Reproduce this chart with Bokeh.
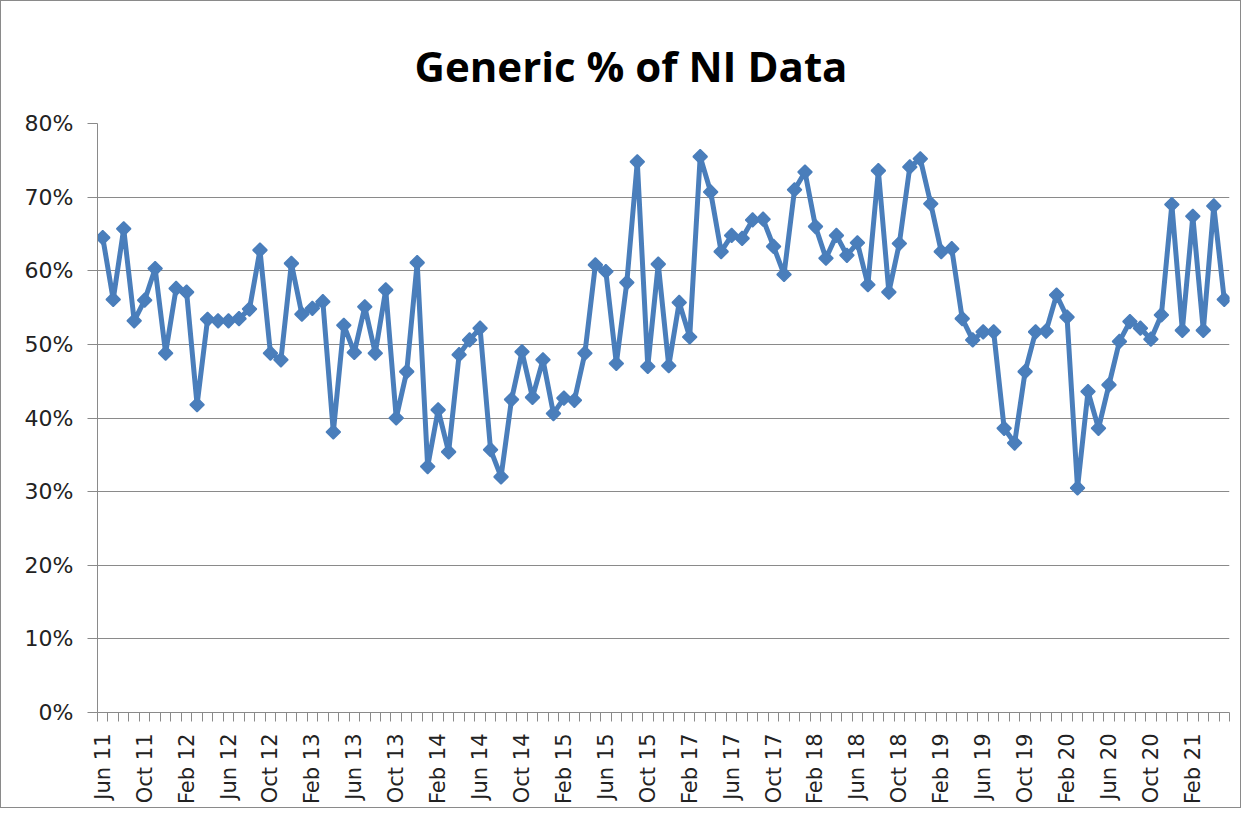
import math
from bokeh.plotting import figure
from bokeh.models import FixedTicker, NumeralTickFormatter, Range1d, ColumnDataSource
from bokeh.embed import file_html
from bokeh.resources import INLINE

# ---- data ----
title_text = "Generic % of NI Data"

months = (
    ["Jun 11", "Jul 11", "Aug 11", "Sep 11", "Oct 11", "Nov 11", "Dec 11",
     "Jan 12", "Feb 12", "Mar 12", "Apr 12", "May 12", "Jun 12", "Jul 12", "Aug 12", "Sep 12", "Oct 12", "Nov 12", "Dec 12",
     "Jan 13", "Feb 13", "Mar 13", "Apr 13", "May 13", "Jun 13", "Jul 13", "Aug 13", "Sep 13", "Oct 13", "Nov 13", "Dec 13",
     "Jan 14", "Feb 14", "Mar 14", "Apr 14", "May 14", "Jun 14", "Jul 14", "Aug 14", "Sep 14", "Oct 14", "Nov 14", "Dec 14",
     "Jan 15", "Feb 15", "Mar 15", "Apr 15", "May 15", "Jun 15", "Jul 15", "Aug 15", "Sep 15", "Oct 15", "Nov 15", "Dec 15",
     "Jan 17", "Feb 17", "Mar 17", "Apr 17", "May 17", "Jun 17", "Jul 17", "Aug 17", "Sep 17", "Oct 17", "Nov 17", "Dec 17",
     "Jan 18", "Feb 18", "Mar 18", "Apr 18", "May 18", "Jun 18", "Jul 18", "Aug 18", "Sep 18", "Oct 18", "Nov 18", "Dec 18",
     "Jan 19", "Feb 19", "Mar 19", "Apr 19", "May 19", "Jun 19", "Jul 19", "Aug 19", "Sep 19", "Oct 19", "Nov 19", "Dec 19",
     "Jan 20", "Feb 20", "Mar 20", "Apr 20", "May 20", "Jun 20", "Jul 20", "Aug 20", "Sep 20", "Oct 20", "Nov 20", "Dec 20",
     "Jan 21", "Feb 21", "Mar 21", "Apr 21", "May 21"]
)

generic_pct = [
    64.5, 56.1, 65.7, 53.2, 56.0, 60.3, 48.8, 57.6, 57.1, 41.8,
    53.4, 53.2, 53.2, 53.5, 54.8, 62.8, 48.8, 47.9, 61.0, 54.1,
    54.9, 55.8, 38.1, 52.6, 48.9, 55.1, 48.8, 57.4, 40.0, 46.3,
    61.1, 33.4, 41.1, 35.4, 48.6, 50.6, 52.2, 35.7, 32.0, 42.5,
    49.0, 42.8, 47.9, 40.6, 42.7, 42.4, 48.8, 60.8, 59.9, 47.4,
    58.4, 74.8, 47.0, 60.9, 47.1, 55.7, 51.0, 75.5, 70.7, 62.6,
    64.8, 64.4, 66.9, 67.0, 63.3, 59.5, 71.0, 73.4, 66.0, 61.7,
    64.8, 62.1, 63.8, 58.1, 73.6, 57.1, 63.7, 74.1, 75.2, 69.1,
    62.6, 63.0, 53.5, 50.6, 51.7, 51.7, 38.6, 36.6, 46.3, 51.7,
    51.8, 56.7, 53.7, 30.5, 43.6, 38.6, 44.5, 50.4, 53.1, 52.2,
    50.7, 54.0, 69.0, 51.9, 67.4, 51.9, 68.8, 56.1,
]

y_ticks = [0.0, 0.1, 0.2, 0.3, 0.4, 0.5, 0.6, 0.7, 0.8]
label_every = 4

# ---- build ----
idx = list(range(len(months)))
src = ColumnDataSource(dict(x=idx, y=[v / 100.0 for v in generic_pct], m=months))

BLUE = "#4A7EBB"
GRID = "#8A8A8A"

p = figure(width=1241, height=808, output_backend="svg", toolbar_location=None,
           title=title_text,
           x_range=Range1d(-0.5, len(months) - 0.5), y_range=Range1d(y_ticks[0], y_ticks[-1]),
           min_border_left=96, min_border_right=13, min_border_top=122, min_border_bottom=97)

p.styles = {"border": "1px solid #8a8a8a"}
p.background_fill_color = "white"
p.border_fill_color = "white"
p.outline_line_color = None

p.title.align = "left"
p.title.text_font = "Open Sans"
p.title.text_font_style = "bold"
p.title.text_font_size = "42px"
p.title.text_color = "black"
p.title.offset = 317
p.title.standoff = 60

p.line("x", "y", source=src, line_color=BLUE, line_width=5, line_join="round")
p.scatter("x", "y", source=src, marker="square", size=10, angle=math.pi / 4,
          fill_color=BLUE, line_color=BLUE, line_width=1.5)

# y axis
p.yaxis.ticker = FixedTicker(ticks=y_ticks)
p.yaxis.formatter = NumeralTickFormatter(format="0%")
p.yaxis.major_tick_out = 10
p.yaxis.major_tick_in = 0
p.yaxis.minor_tick_out = 0
p.yaxis.minor_tick_in = 0
p.yaxis.major_label_standoff = 14
p.yaxis.major_label_text_font = "DejaVu Sans"
p.yaxis.major_label_text_font_size = "22px"
p.yaxis.major_label_text_color = "#222222"
p.yaxis.axis_line_color = GRID
p.yaxis.major_tick_line_color = GRID

# x axis
label_pos = idx[::label_every]
p.xaxis.ticker = FixedTicker(ticks=label_pos, minor_ticks=[i - 0.5 for i in idx] + [len(idx) - 0.5])
p.xaxis.major_label_overrides = {i: months[i] for i in label_pos}
p.xaxis.major_label_orientation = math.pi / 2
p.xaxis.major_tick_out = 0
p.xaxis.major_tick_in = 0
p.xaxis.minor_tick_out = 9
p.xaxis.minor_tick_in = 0
p.xaxis.major_label_standoff = 12
p.xaxis.major_label_text_font = "DejaVu Sans"
p.xaxis.major_label_text_font_size = "21px"
p.xaxis.major_label_text_color = "#222222"
p.xaxis.axis_line_color = GRID
p.xaxis.minor_tick_line_color = GRID

p.xgrid.grid_line_color = None
p.ygrid.grid_line_color = GRID
p.ygrid.grid_line_width = 1.2

open("out.html", "w").write(file_html(p, INLINE))
